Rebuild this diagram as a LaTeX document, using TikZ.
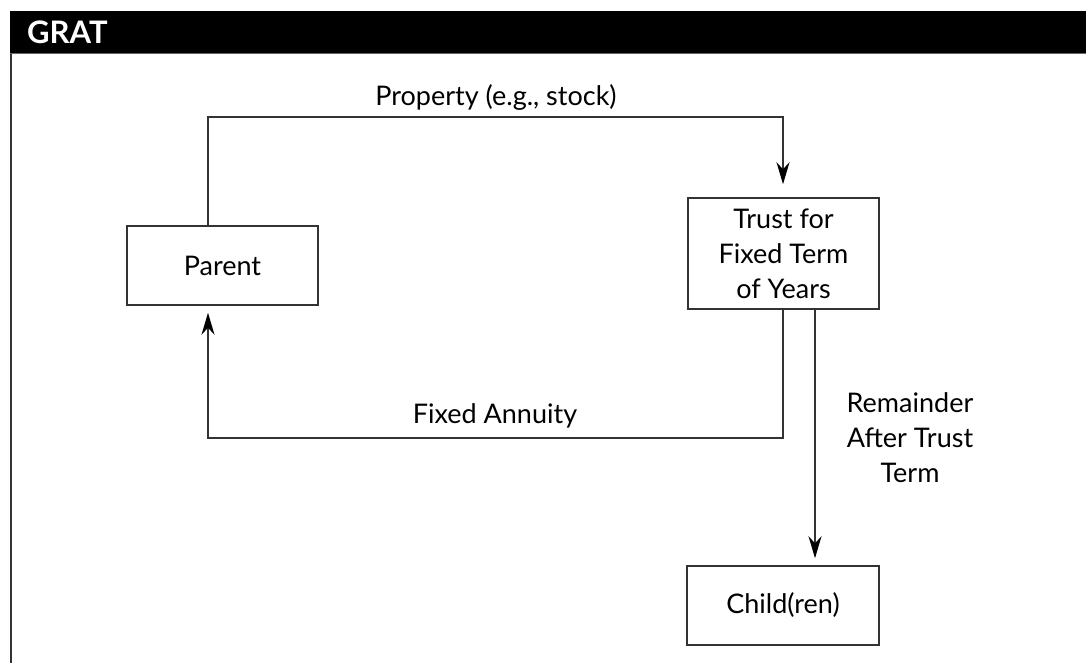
\documentclass[tikz,border=0pt]{standalone}
\usepackage{fontspec}
\setmainfont{Lato}
\usetikzlibrary{arrows.meta}
\begin{document}
\begin{tikzpicture}[x=1pt,y=-1pt,
  every node/.style={font=\fontsize{27}{35}\selectfont, text=black},
  box/.style={draw=black!80, line width=1.5pt, inner sep=0pt, align=center},
  conn/.style={draw=black!80, line width=1.5pt},
  arr/.style={conn, -{Stealth[length=22pt,width=13pt,inset=7pt,black]}},
  lbl/.style={align=center, inner sep=0pt}]
\useasboundingbox (0,0) rectangle (1086,663);
% header
\fill[black] (10,11) rectangle (1086,54);
\draw[black!60, line width=1pt] (10,54) -- (1086,54);
\node[anchor=base west, text=white, font=\fontsize{31}{34}\selectfont\bfseries, inner sep=0pt] (title) at (27,43.5) {GRAT};
\draw[black!80, line width=2pt] (10.5,54) -- (10.5,663);
% boxes
\node[box, minimum width=191pt, minimum height=79pt] (parent) at (222.5,265.5) {Parent};
\node[box, minimum width=191pt, minimum height=111pt] (trust) at (783.5,253.5) {Trust for\\Fixed Term\\of Years};
\node[box, minimum width=192pt, minimum height=79pt] (child) at (783,605.5) {Child(ren)};
% connectors
\draw[arr, shorten >=13pt] ([xshift=-14.5pt]parent.north) -- ++(0,-108) -| ([xshift=-0.5pt]trust.north);
\draw[arr, shorten >=7pt] ([xshift=-0.5pt]trust.south) -- ++(0,128) -| ([xshift=-14.5pt]parent.south);
\draw[arr, shorten >=7pt] ([xshift=31.5pt]trust.south) -- ([xshift=32pt]child.north);
% labels
\node[lbl] (lprop) at (496,97) {Property (e.g., stock)};
\node[lbl] (lann) at (495,416) {Fixed Annuity};
\node[lbl] (lrem) at (910,438) {Remainder\\After Trust\\Term};
\end{tikzpicture}
\end{document}
